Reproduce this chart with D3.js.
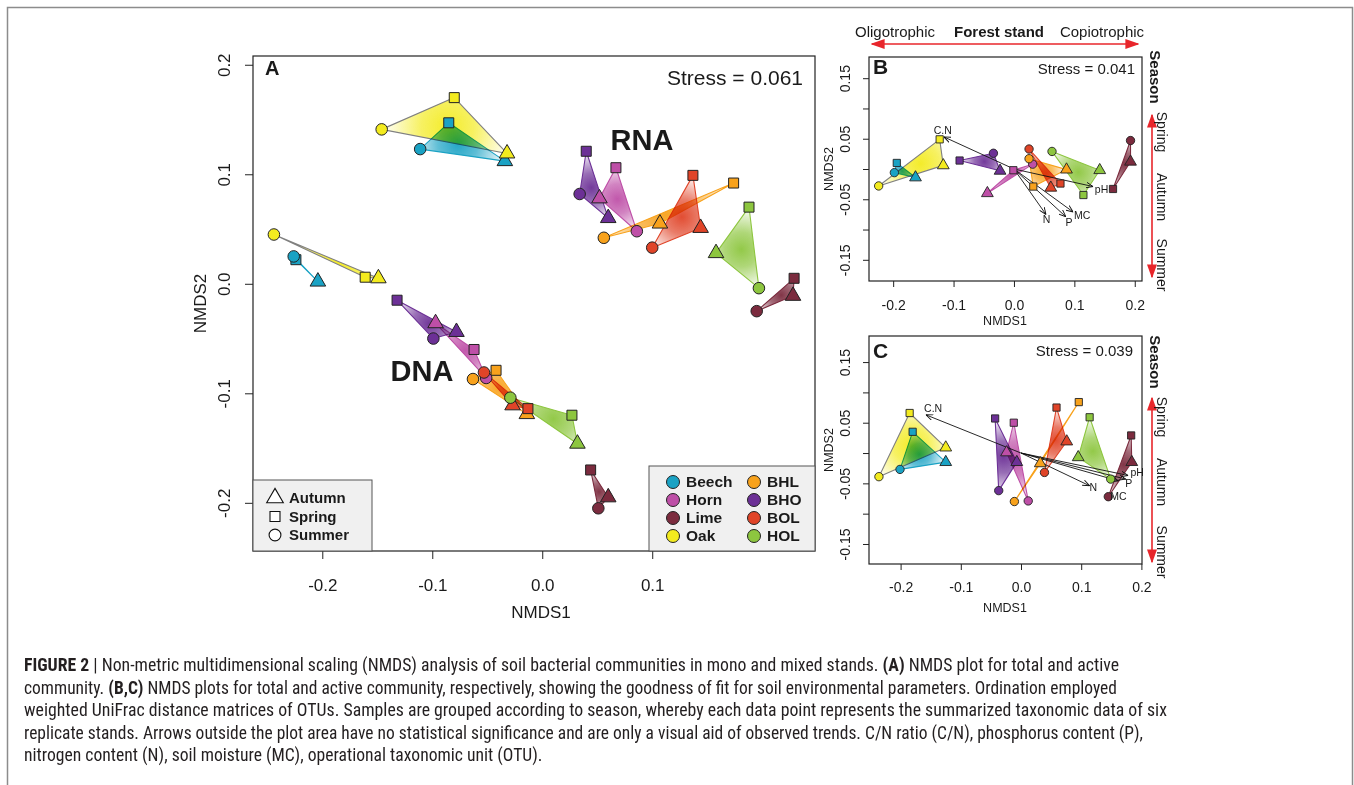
<!DOCTYPE html>
<html><head><meta charset="utf-8">
<script src="https://cdn.jsdelivr.net/npm/d3@7"></script>
<style>
html,body{margin:0;padding:0;background:#fff;}
svg{display:block;}
text{font-family:"Liberation Sans",Arial,Helvetica,sans-serif;fill:#1a1a1a;}
</style></head><body>
<svg id="fig" width="1354" height="785"></svg>
<script>
// ---------------- DATA ----------------
const stands = ["Beech","Horn","Lime","Oak","BHL","BHO","BOL","HOL"];
const standColors = ["#1AA2C4","#BE4FA7","#7B2B3E","#F3EB1F","#F8A21C","#6C3096","#E04428","#8DC63F"];
const standLineColors = ["#1AA2C4","#BE4FA7","#7B2B3E","#808080","#F8A21C","#6C3096","#E04428","#8DC63F"];
const seasons = ["Autumn","Spring","Summer"];
const legendLeftStands = ["Beech","Horn","Lime","Oak"];
const legendRightStands = ["BHL","BHO","BOL","HOL"];

// Panel A, RNA (active community) – values per stand in `stands` order, [NMDS1, NMDS2]
const rnaAutumn = [[-0.034,0.112],[0.052,0.078],[0.228,-0.011],[-0.032,0.119],[0.107,0.055],[0.060,0.060],[0.144,0.051],[0.158,0.028]];
const rnaSpring = [[-0.085,0.147],[0.067,0.106],[0.229,0.005],[-0.080,0.170],[0.174,0.092],[0.040,0.121],[0.137,0.099],[0.188,0.070]];
const rnaSummer = [[-0.111,0.123],[0.086,0.048],[0.195,-0.025],[-0.146,0.141],[0.056,0.042],[0.034,0.082],[0.100,0.033],[0.197,-0.004]];
// Panel A, DNA (total community)
const dnaAutumn = [[-0.204,0.002],[-0.097,-0.036],[0.060,-0.195],[-0.149,0.005],[-0.014,-0.119],[-0.078,-0.044],[-0.027,-0.111],[0.032,-0.146]];
const dnaSpring = [[-0.224,0.022],[-0.062,-0.060],[0.044,-0.170],[-0.161,0.006],[-0.042,-0.079],[-0.132,-0.015],[-0.013,-0.114],[0.027,-0.120]];
const dnaSummer = [[-0.226,0.025],[-0.051,-0.086],[0.051,-0.205],[-0.244,0.045],[-0.063,-0.087],[-0.099,-0.050],[-0.053,-0.081],[-0.029,-0.104]];
// Panel B (total)
const bAutumn = [[-0.163,-0.014],[-0.044,-0.040],[0.193,0.012],[-0.117,0.006],[0.087,-0.001],[-0.023,-0.003],[0.061,-0.031],[0.142,-0.002]];
const bSpring = [[-0.194,0.010],[-0.001,-0.002],[0.164,-0.033],[-0.123,0.049],[0.032,-0.029],[-0.090,0.014],[0.077,-0.024],[0.115,-0.043]];
const bSummer = [[-0.198,-0.006],[0.031,0.008],[0.193,0.047],[-0.224,-0.028],[0.025,0.017],[-0.034,0.026],[0.025,0.033],[0.063,0.029]];
// Panel C (active)
const cAutumn = [[-0.125,-0.015],[-0.024,0.001],[0.184,-0.015],[-0.125,0.009],[0.032,-0.017],[-0.007,-0.015],[0.076,0.019],[0.095,-0.007]];
const cSpring = [[-0.180,0.035],[-0.012,0.050],[0.183,0.029],[-0.185,0.066],[0.096,0.084],[-0.043,0.057],[0.059,0.075],[0.114,0.059]];
const cSummer = [[-0.201,-0.027],[0.012,-0.079],[0.145,-0.072],[-0.236,-0.039],[-0.011,-0.080],[-0.037,-0.062],[0.039,-0.032],[0.149,-0.043]];

// Environmental fit vectors
const vecNames = ["C.N","pH","N","P","MC"];
const bVecX = [-0.116, 0.131, 0.053, 0.086, 0.098];
const bVecY = [0.053, -0.029, -0.075, -0.079, -0.071];
const bLabX = [-0.118, 0.145, 0.054, 0.091, 0.113];
const bLabY = [0.064, -0.033, -0.083, -0.088, -0.076];
const cVecX = [-0.158, 0.178, 0.114, 0.174, 0.162];
const cVecY = [0.063, -0.037, -0.054, -0.043, -0.046];
const cLabX = [-0.146, 0.193, 0.120, 0.179, 0.162];
const cLabY = [0.073, -0.031, -0.057, -0.050, -0.072];

// Ticks
const aXTicks = [-0.2,-0.1,0.0,0.1];
const aYTicks = [-0.2,-0.1,0.0,0.1,0.2];
const bcXTicks = [-0.2,-0.1,0.0,0.1,0.2];
const bcYTicks = [-0.15,-0.10,-0.05,0.0,0.05,0.10,0.15];

const stressA = "Stress = 0.061", stressB = "Stress = 0.041", stressC = "Stress = 0.039";

const captionLines = [
  [["FIGURE 2",true],[" | Non-metric multidimensional scaling (NMDS) analysis of soil bacterial communities in mono and mixed stands. ",false],["(A)",true],[" NMDS plot for total and active",false]],
  [["community. ",false],["(B,C)",true],[" NMDS plots for total and active community, respectively, showing the goodness of fit for soil environmental parameters. Ordination employed",false]],
  [["weighted UniFrac distance matrices of OTUs. Samples are grouped according to season, whereby each data point represents the summarized taxonomic data of six",false]],
  [["replicate stands. Arrows outside the plot area have no statistical significance and are only a visual aid of observed trends. C/N ratio (C/N), phosphorus content (P),",false]],
  [["nitrogen content (N), soil moisture (MC), operational taxonomic unit (OTU).",false]]
];
const captionWidths = [1095, 1093, 1143, 1119, null];

// ---------------- DRAW ----------------
const svg = d3.select("#fig");
const defs = svg.append("defs");
const seasonSymbols = [d3.symbolTriangle, d3.symbolSquare, d3.symbolCircle];

svg.append("rect").attr("x",7.5).attr("y",7.5).attr("width",1345).attr("height",820)
  .attr("fill","none").attr("stroke","#8c8c8c").attr("stroke-width",1.5);

defs.append("marker").attr("id","headOpen").attr("viewBox","0 0 10 10").attr("refX",10).attr("refY",5)
  .attr("markerWidth",7).attr("markerHeight",7).attr("markerUnits","userSpaceOnUse").attr("orient","auto")
  .append("path").attr("d","M0,1 L10,5 L0,9").attr("fill","none").attr("stroke","#111").attr("stroke-width",1.3);
defs.append("marker").attr("id","headRed").attr("viewBox","0 0 10 10").attr("refX",9).attr("refY",5)
  .attr("markerWidth",14).attr("markerHeight",10).attr("markerUnits","userSpaceOnUse").attr("orient","auto-start-reverse")
  .attr("preserveAspectRatio","none")
  .append("path").attr("d","M0,0 L10,5 L0,10 Z").attr("fill","#E8262B");

const fmt1 = v => (Math.abs(v) < 1e-9 ? 0 : v).toFixed(1);
const fmtBC = v => (Math.abs(Math.round(v*100)) % 10 === 5) ? v.toFixed(2) : "";

function drawPanel(cfg) {
  const g = svg.append("g");
  const x = cfg.x, y = cfg.y;
  const [xl, xr] = x.range(), [yb, yt] = y.range();
  cfg.sets.forEach((set, si) => {
    stands.forEach((s, i) => {
      const pts = set.map(arr => [x(arr[i][0]), y(arr[i][1])]);
      const cx = d3.mean(pts, p => p[0]), cy = d3.mean(pts, p => p[1]);
      const r = Math.max(4, d3.max(pts, p => Math.hypot(p[0]-cx, p[1]-cy)));
      const gid = `g-${cfg.id}-${si}-${i}`;
      const grad = defs.append("radialGradient").attr("id", gid).attr("gradientUnits","userSpaceOnUse")
        .attr("cx", cx).attr("cy", cy).attr("r", r);
      grad.append("stop").attr("offset","0%").attr("stop-color", standColors[i]).attr("stop-opacity", 0.95);
      grad.append("stop").attr("offset","40%").attr("stop-color", standColors[i]).attr("stop-opacity", 0.7);
      grad.append("stop").attr("offset","100%").attr("stop-color", standColors[i]).attr("stop-opacity", 0);
      g.append("path").attr("d", d3.line()(pts) + "Z")
        .attr("fill", `url(#${gid})`).attr("stroke", standLineColors[i]).attr("stroke-width", 1.1)
        .attr("stroke-linejoin","round").style("mix-blend-mode","multiply");
    });
  });
  if (cfg.vec) {
    const v = cfg.vec;
    vecNames.forEach((n, k) => {
      g.append("line").attr("x1", x(0)).attr("y1", y(0)).attr("x2", x(v.vx[k])).attr("y2", y(v.vy[k]))
        .attr("stroke","#111").attr("stroke-width",0.9).attr("marker-end","url(#headOpen)");
    });
  }
  cfg.sets.forEach(set => {
    stands.forEach((s, i) => {
      set.forEach((arr, k) => {
        g.append("path").attr("d", d3.symbol(seasonSymbols[k], cfg.symSize[k])())
          .attr("transform", `translate(${x(arr[i][0])},${y(arr[i][1])})`)
          .attr("fill", standColors[i]).attr("stroke","#222").attr("stroke-width", cfg.symStroke);
      });
    });
  });
  if (cfg.vec) {
    const v = cfg.vec;
    vecNames.forEach((n, k) => {
      g.append("text").attr("x", x(v.lx[k])).attr("y", y(v.ly[k])).attr("dy","0.35em")
        .attr("text-anchor","middle").attr("font-size", 10.5).text(n);
    });
  }
  g.append("rect").attr("x", xl).attr("y", yt).attr("width", xr-xl).attr("height", yb-yt)
    .attr("fill","none").attr("stroke","#222").attr("stroke-width",1.2);
  const gx = g.append("g").attr("transform",`translate(0,${yb})`)
    .call(d3.axisBottom(x).tickValues(cfg.xTicks).tickSize(cfg.tick).tickFormat(cfg.xFmt));
  gx.attr("font-family", null).attr("font-size", null);
  gx.select(".domain").remove();
  gx.selectAll(".tick line").attr("stroke","#222").attr("stroke-width",1);
  gx.selectAll(".tick text").attr("y", cfg.xLabOff).attr("dy","0.35em").attr("font-size", cfg.fs).attr("fill","#1a1a1a");
  const gy = g.append("g").attr("transform",`translate(${xl},0)`)
    .call(d3.axisLeft(y).tickValues(cfg.yTicks).tickSize(cfg.tick).tickFormat(cfg.yFmt));
  gy.attr("font-family", null).attr("font-size", null);
  gy.select(".domain").remove();
  gy.selectAll(".tick line").attr("stroke","#222").attr("stroke-width",1);
  gy.selectAll(".tick text").attr("x", null).attr("dy","0.35em").attr("text-anchor","middle")
    .attr("transform", `translate(${-cfg.yLabOff},0) rotate(-90)`).attr("font-size", cfg.fs).attr("fill","#1a1a1a");
  g.append("text").attr("x", cfg.xTitleX).attr("y", cfg.xTitleY).attr("text-anchor","middle")
    .attr("font-size", cfg.titleFs).text("NMDS1");
  g.append("text").attr("transform", `translate(${cfg.yTitleX},${(yb+yt)/2}) rotate(-90)`).attr("dy","0.35em")
    .attr("text-anchor","middle").attr("font-size", cfg.titleFs).text("NMDS2");
  g.append("text").attr("x", xl + cfg.letterDx).attr("y", cfg.letterY).attr("font-size", cfg.letterFs)
    .attr("font-weight","bold").text(cfg.letter);
  g.append("text").attr("x", cfg.stressX).attr("y", cfg.stressY).attr("text-anchor","end")
    .attr("font-size", cfg.stressFs).text(cfg.stress);
  return g;
}

// Panel A
const xA = d3.scaleLinear().domain([-0.263, 0.248]).range([253, 815]);
const yA = d3.scaleLinear().domain([-0.244, 0.208]).range([551, 56]);
const gA = drawPanel({id:"A", x:xA, y:yA, sets:[[rnaAutumn,rnaSpring,rnaSummer],[dnaAutumn,dnaSpring,dnaSummer]],
  symSize:[105,100,105], symStroke:1, xTicks:aXTicks, yTicks:aYTicks, xFmt:fmt1, yFmt:fmt1, tick:8, fs:17,
  xLabOff:34, yLabOff:29, xTitleX:541, xTitleY:618, yTitleX:200, titleFs:17,
  letter:"A", letterDx:12, letterY:75, letterFs:20, stress:stressA, stressX:803, stressY:85, stressFs:21});
gA.append("text").attr("x", 642).attr("y", 150).attr("text-anchor","middle").attr("font-size",29).attr("font-weight","bold").text("RNA");
gA.append("text").attr("x", 422).attr("y", 381).attr("text-anchor","middle").attr("font-size",29).attr("font-weight","bold").text("DNA");

const legL = gA.append("g");
legL.append("rect").attr("x",253).attr("y",480).attr("width",119).attr("height",71).attr("fill","#f0f0f0").attr("stroke","#555").attr("stroke-width",1);
seasons.forEach((s, k) => {
  const yy = 498 + k*18.5;
  legL.append("path").attr("d", d3.symbol(seasonSymbols[k], [120,100,110][k])())
    .attr("transform",`translate(275,${yy})`).attr("fill","#fff").attr("stroke","#111").attr("stroke-width",1.1);
  legL.append("text").attr("x",289).attr("y",yy).attr("dy","0.35em").attr("font-size",15).attr("font-weight","bold").text(s);
});
const legR = gA.append("g");
legR.append("rect").attr("x",649).attr("y",466).attr("width",166).attr("height",85).attr("fill","#f0f0f0").attr("stroke","#555").attr("stroke-width",1);
[legendLeftStands, legendRightStands].forEach((col, c) => {
  col.forEach((s, r) => {
    const i = stands.indexOf(s);
    const yy = 482 + r*18;
    const xx = c === 0 ? 673 : 754;
    legR.append("circle").attr("cx", xx).attr("cy", yy).attr("r", 6.5).attr("fill", standColors[i]).attr("stroke","#222").attr("stroke-width",1);
    legR.append("text").attr("x", xx+13).attr("y", yy).attr("dy","0.35em").attr("font-size",15.5).attr("font-weight","bold").text(s);
  });
});

// Panel B
const xB = d3.scaleLinear().domain([-0.240, 0.212]).range([869, 1142]);
const yB = d3.scaleLinear().domain([-0.185, 0.185]).range([281, 57]);
drawPanel({id:"B", x:xB, y:yB, sets:[[bAutumn,bSpring,bSummer]],
  symSize:[60,52,55], symStroke:0.9, xTicks:bcXTicks, yTicks:bcYTicks, xFmt:fmt1, yFmt:fmtBC, tick:6, fs:14,
  xLabOff:24, yLabOff:24, xTitleX:1005, xTitleY:325, yTitleX:829, titleFs:12.5,
  letter:"B", letterDx:4, letterY:74, letterFs:21, stress:stressB, stressX:1135, stressY:74, stressFs:15,
  vec:{vx:bVecX, vy:bVecY, lx:bLabX, ly:bLabY}});

// Panel C
const xC = d3.scaleLinear().domain([-0.2525, 0.201]).range([869, 1142]);
const yC = d3.scaleLinear().domain([-0.183, 0.193]).range([564, 336]);
drawPanel({id:"C", x:xC, y:yC, sets:[[cAutumn,cSpring,cSummer]],
  symSize:[60,52,55], symStroke:0.9, xTicks:bcXTicks, yTicks:bcYTicks, xFmt:fmt1, yFmt:fmtBC, tick:6, fs:14,
  xLabOff:23, yLabOff:24, xTitleX:1005, xTitleY:612, yTitleX:829, titleFs:12.5,
  letter:"C", letterDx:4, letterY:358, letterFs:21, stress:stressC, stressX:1133, stressY:356, stressFs:15,
  vec:{vx:cVecX, vy:cVecY, lx:cLabX, ly:cLabY}});

// Forest stand header
const hdr = svg.append("g");
hdr.append("line").attr("x1",872).attr("y1",44).attr("x2",1138).attr("y2",44).attr("stroke","#E8262B").attr("stroke-width",1.6)
  .attr("marker-start","url(#headRed)").attr("marker-end","url(#headRed)");
hdr.append("text").attr("x",895).attr("y",37).attr("text-anchor","middle").attr("font-size",15).text("Oligotrophic");
hdr.append("text").attr("x",999).attr("y",37).attr("text-anchor","middle").attr("font-size",15).attr("font-weight","bold").text("Forest stand");
hdr.append("text").attr("x",1102).attr("y",37).attr("text-anchor","middle").attr("font-size",15).text("Copiotrophic");

function seasonSide(seasonY, a1, a2, labY) {
  const s = svg.append("g");
  s.append("text").attr("transform",`translate(1155,${seasonY}) rotate(90)`).attr("dy","0.35em")
    .attr("text-anchor","middle").attr("font-size",15).attr("font-weight","bold").text("Season");
  s.append("line").attr("x1",1152).attr("y1",a1).attr("x2",1152).attr("y2",a2).attr("stroke","#E8262B").attr("stroke-width",1.6)
    .attr("marker-start","url(#headRed)").attr("marker-end","url(#headRed)");
  ["Spring","Autumn","Summer"].forEach((t, k) => {
    s.append("text").attr("transform",`translate(1162,${labY[k]}) rotate(90)`).attr("dy","0.35em")
      .attr("text-anchor","middle").attr("font-size",14).text(t);
  });
}
seasonSide(77, 115, 277, [132,197,265]);
seasonSide(362, 398, 562, [417,482,552]);

// Caption
const cap = svg.append("g");
const capFont = '"Liberation Sans Narrow","Arial Narrow","Roboto Condensed","Liberation Sans",sans-serif';
const capNodes = captionLines.map((line, li) => {
  const t = cap.append("text").attr("x",24).attr("y",671 + li*22.6)
    .style("font-family", capFont).attr("font-size",16.5).style("fill","#231f20");
  line.forEach(([txt, bold]) => {
    t.append("tspan").attr("font-weight", bold ? "bold" : "normal").text(txt);
  });
  return t;
});
const ratios = capNodes.slice(0,4).map((t, i) => captionWidths[i] / t.node().getComputedTextLength());
const avgRatio = d3.mean(ratios);
capNodes.forEach((t, i) => {
  t.attr("font-size", 16.5 * avgRatio);
  if (captionWidths[i]) t.attr("textLength", captionWidths[i]).attr("lengthAdjust","spacingAndGlyphs");
});
</script></body></html>
